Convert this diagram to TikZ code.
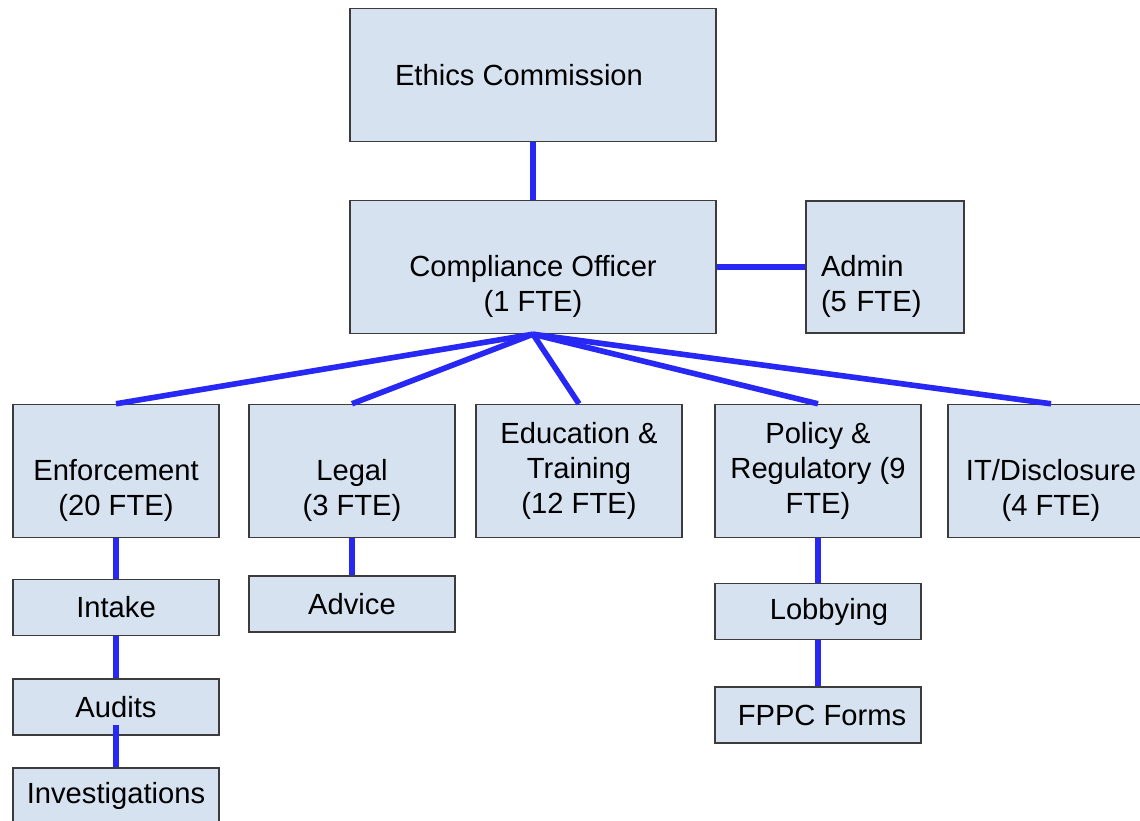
\documentclass[tikz,border=0pt]{standalone}
\usepackage{fontspec}
\setmainfont{Liberation Sans}
\definecolor{boxfill}{RGB}{214,226,240}
\definecolor{boxline}{RGB}{60,60,60}
\definecolor{linkblue}{RGB}{40,40,245}

\begin{document}
\begin{tikzpicture}%
[x=0.02cm, y=-0.02cm,%
unit/.style={draw=boxline, fill=boxfill, line width=0.85pt, align=center,%
  inner sep=0pt, font=\fontsize{16.6pt}{20pt}\selectfont},%
bigunit/.style={unit, minimum width=7.32cm, minimum height=2.66cm},%
midunit/.style={unit, minimum width=4.12cm, minimum height=2.66cm},%
subunit/.style={unit, minimum width=4.12cm, minimum height=1.12cm},%
link/.style={draw=linkblue, line width=3.2pt}]
\useasboundingbox (0,0) rectangle (1140,821);
% top of the chart
\node[bigunit] (ethics) at (533,75) {Ethics Commission\hspace*{0.56cm}};
\node[bigunit] (officer) at (533,267) {\strut\\Compliance Officer\\(1 FTE)};
\node[unit, minimum width=3.16cm, minimum height=2.64cm, inner xsep=0.3cm,%
  text width=2.56cm, align=left] (admin) at (885,267) {\strut\\Admin\\(5 FTE)};
% divisions
\node[midunit] (enforce) at (116,471) {\strut\\Enforcement\\(20 FTE)};
\node[midunit] (legal) at (352,471) {\strut\\Legal\\(3 FTE)};
\node[midunit] (educ) at (579,471) {Education \&\\Training\\(12 FTE)};
\node[midunit] (policy) at (818,471) {Policy \&\\Regulatory (9\\FTE)};
\node[midunit] (itdisc) at (1051,471) {\strut\\IT/Disclosure\\(4 FTE)};
% sections
\node[subunit] (intake) at (116,607.5) {Intake};
\node[subunit] (audits) at (116,707) {Audits};
\node[subunit] (investig) at (116,796) {Investigations};
\node[subunit] (advice) at (352,604) {Advice};
\node[subunit] (lobby) at (818,611.5) {\hspace*{0.44cm}Lobbying};
\node[subunit] (fppc) at (818,715) {\hspace*{0.16cm}FPPC Forms};
% links
\draw[link] (ethics.south) -- (officer.north);
\draw[link] (officer.east) -- (admin.west);
\foreach \d in {enforce,legal,educ,policy,itdisc}
  \draw[link] (officer.south) -- (\d.north);
\draw[link] (enforce.south) -- (intake.north);
\draw[link] (intake.south) -- (audits.north);
\draw[link] ([yshift=0.22cm]audits.south) -- (investig.north);
\draw[link] (legal.south) -- (advice.north);
\draw[link] (policy.south) -- (lobby.north);
\draw[link] (lobby.south) -- (fppc.north);
\end{tikzpicture}
\end{document}
